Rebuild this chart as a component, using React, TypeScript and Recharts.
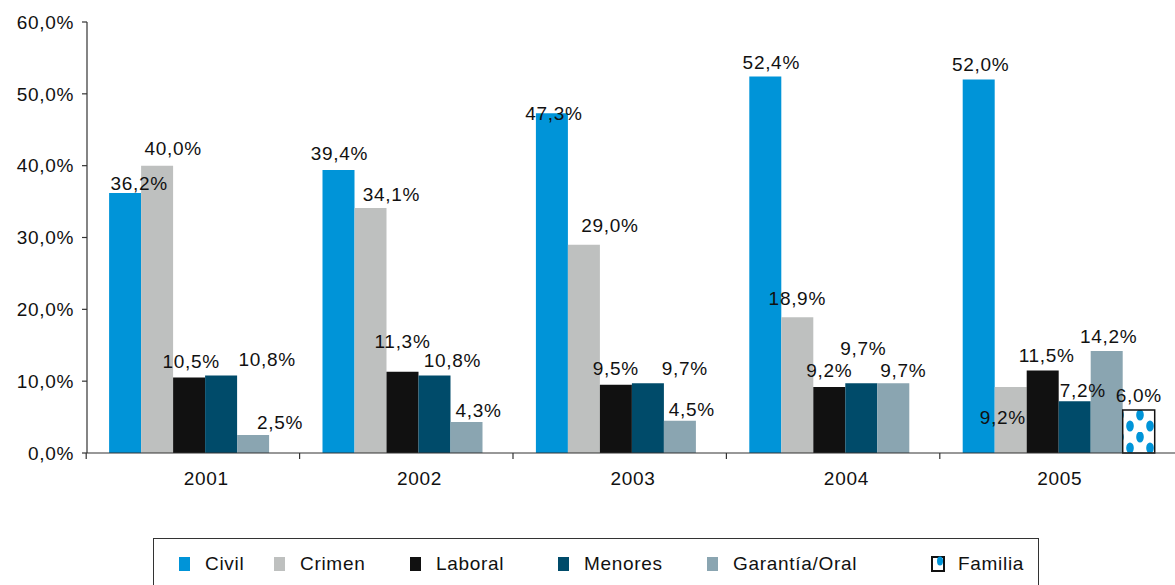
import React from 'react';
import { BarChart, Bar, XAxis, YAxis, LabelList } from 'recharts';

const years = ['2001', '2002', '2003', '2004', '2005'];
const civil = [36.2, 39.4, 47.3, 52.4, 52.0];
const crimen = [40.0, 34.1, 29.0, 18.9, 9.2];
const laboral = [10.5, 11.3, 9.5, 9.2, 11.5];
const menores = [10.8, 10.8, 9.7, 9.7, 7.2];
const garantia = [2.5, 4.3, 4.5, 9.7, 14.2];
const familia = [null, null, null, null, 6.0];
const yTicks = [0, 10, 20, 30, 40, 50, 60];

const data = years.map((year, i) => ({
  year,
  civil: civil[i],
  crimen: crimen[i],
  laboral: laboral[i],
  menores: menores[i],
  garantia: garantia[i],
  familia: familia[i],
}));

// hand-placed label nudges, like the original (dx, dy per year)
const series = [
  { key: 'civil', name: 'Civil', color: '#0094D8', nudge: [[14, 5], [1, -2], [2, 15], [6, 0], [2, 0]] },
  { key: 'crimen', name: 'Crimen', color: '#BEC0BF', nudge: [[16, -3], [21, 1], [26, -5], [0, -4], [-8, 45]] },
  { key: 'laboral', name: 'Laboral', color: '#111111', nudge: [[2, -2], [0, -16], [0, -2], [0, -2], [4, 0]] },
  { key: 'menores', name: 'Menores', color: '#004B6A', nudge: [[46, -1], [18, 0], [37, 0], [2, -20], [8, 4]] },
  { key: 'garantia', name: 'Garantía/Oral', color: '#8AA5B1', nudge: [[27, 2], [12, 3], [12, 3], [10, 2], [2, 0]] },
  { key: 'familia', name: 'Familia', color: 'url(#dots)', nudge: [[0, 0], [0, 0], [0, 0], [0, 0], [11, 1]] },
];

const legendLeft = [24, 119, 255, 403, 552, 777];

const FONT = '"Liberation Sans", Arial, Helvetica, sans-serif';
const FS = 19;
const LS = 0.7;
const fmt = (v: number) => v.toFixed(1).replace('.', ',') + '%';

const makeLabel = (nudge: number[][]) => (props: any) => {
  const { x, y, width, value, index } = props;
  if (value === null || value === undefined) return null;
  const [dx, dy] = nudge[index] || [0, 0];
  return (
    <text
      x={Number(x) + Number(width) / 2 + dx}
      y={Number(y) - 8 + dy}
      textAnchor="middle"
      fontFamily={FONT}
      fontSize={FS}
      letterSpacing={LS}
      fill="#111"
    >
      {fmt(Number(value))}
    </text>
  );
};

const YearTick = (props: any) => {
  const { x, y, payload } = props;
  return (
    <g>
      <line x1={x - 120} y1={y} x2={x - 120} y2={y + 6} stroke="#333" strokeWidth={1.2} />
      <text x={x} y={y + 32} textAnchor="middle" fontFamily={FONT} fontSize={FS} letterSpacing={LS} fill="#111">
        {payload.value}
      </text>
    </g>
  );
};

const Swatch: React.FC<{ color: string; dotted?: boolean }> = ({ color, dotted }) => (
  <svg width={14} height={16} style={{ display: 'block' }}>
    {dotted ? (
      <g>
        <rect x={1} y={1} width={12} height={14} fill="#fff" stroke="#111" strokeWidth={2} />
        <ellipse cx={9} cy={5} rx={3} ry={4.5} fill="#0094D8" />
      </g>
    ) : (
      <rect x={1} y={1} width={11} height={14} fill={color} />
    )}
  </svg>
);

export default function App() {
  return (
    <div style={{ position: 'absolute', left: 0, top: 0, width: 1175, height: 585, overflow: 'hidden', background: '#fff' }}>
      <BarChart
        width={1175}
        height={585}
        data={data}
        margin={{ top: 22, right: 0, bottom: 92, left: 0 }}
        barCategoryGap="4.5%"
        barGap={0}
      >
        <defs>
          <pattern id="dots" width={20} height={22} patternUnits="userSpaceOnUse" x={1126} y={410}>
            <rect width={20} height={22} fill="#fff" />
            <ellipse cx={4} cy={16} rx={3.8} ry={5.5} fill="#0094D8" />
            <ellipse cx={14} cy={5} rx={3.8} ry={5.5} fill="#0094D8" />
          </pattern>
        </defs>
        <XAxis
          dataKey="year"
          height={40}
          padding={{ left: 12.5, right: 8.5 }}
          tickLine={false}
          tickSize={0}
          tickMargin={0}
          axisLine={{ stroke: '#333', strokeWidth: 1.2 }}
          tick={<YearTick />}
          interval={0}
        />
        <YAxis
          width={87}
          domain={[0, 60]}
          ticks={yTicks}
          tickFormatter={fmt}
          tickSize={5}
          tickMargin={8}
          axisLine={{ stroke: '#333', strokeWidth: 1.2 }}
          tickLine={{ stroke: '#333', strokeWidth: 1.2 }}
          tick={{ fontFamily: FONT, fontSize: FS, fill: '#111', letterSpacing: LS }}
        />
        {series.map((s) => (
          <Bar
            key={s.key}
            dataKey={s.key}
            name={s.name}
            fill={s.color}
            stroke={s.key === 'familia' ? '#111' : 'none'}
            strokeWidth={s.key === 'familia' ? 1.5 : 0}
            isAnimationActive={false}
          >
            <LabelList dataKey={s.key} content={makeLabel(s.nudge)} />
          </Bar>
        ))}
      </BarChart>
      <div
        style={{
          position: 'absolute',
          left: 153,
          top: 538,
          width: 886,
          height: 60,
          border: '1px solid #333',
          boxSizing: 'border-box',
          fontFamily: FONT,
          fontSize: FS,
          letterSpacing: LS,
          color: '#111',
        }}
      >
        {series.map((s, i) => (
          <div key={s.key} style={{ position: 'absolute', left: legendLeft[i], top: 16, display: 'flex', alignItems: 'center', whiteSpace: 'nowrap' }}>
            <Swatch color={s.color} dotted={s.key === 'familia'} />
            <span style={{ marginLeft: 13, lineHeight: '18px' }}>{s.name}</span>
          </div>
        ))}
      </div>
    </div>
  );
}
